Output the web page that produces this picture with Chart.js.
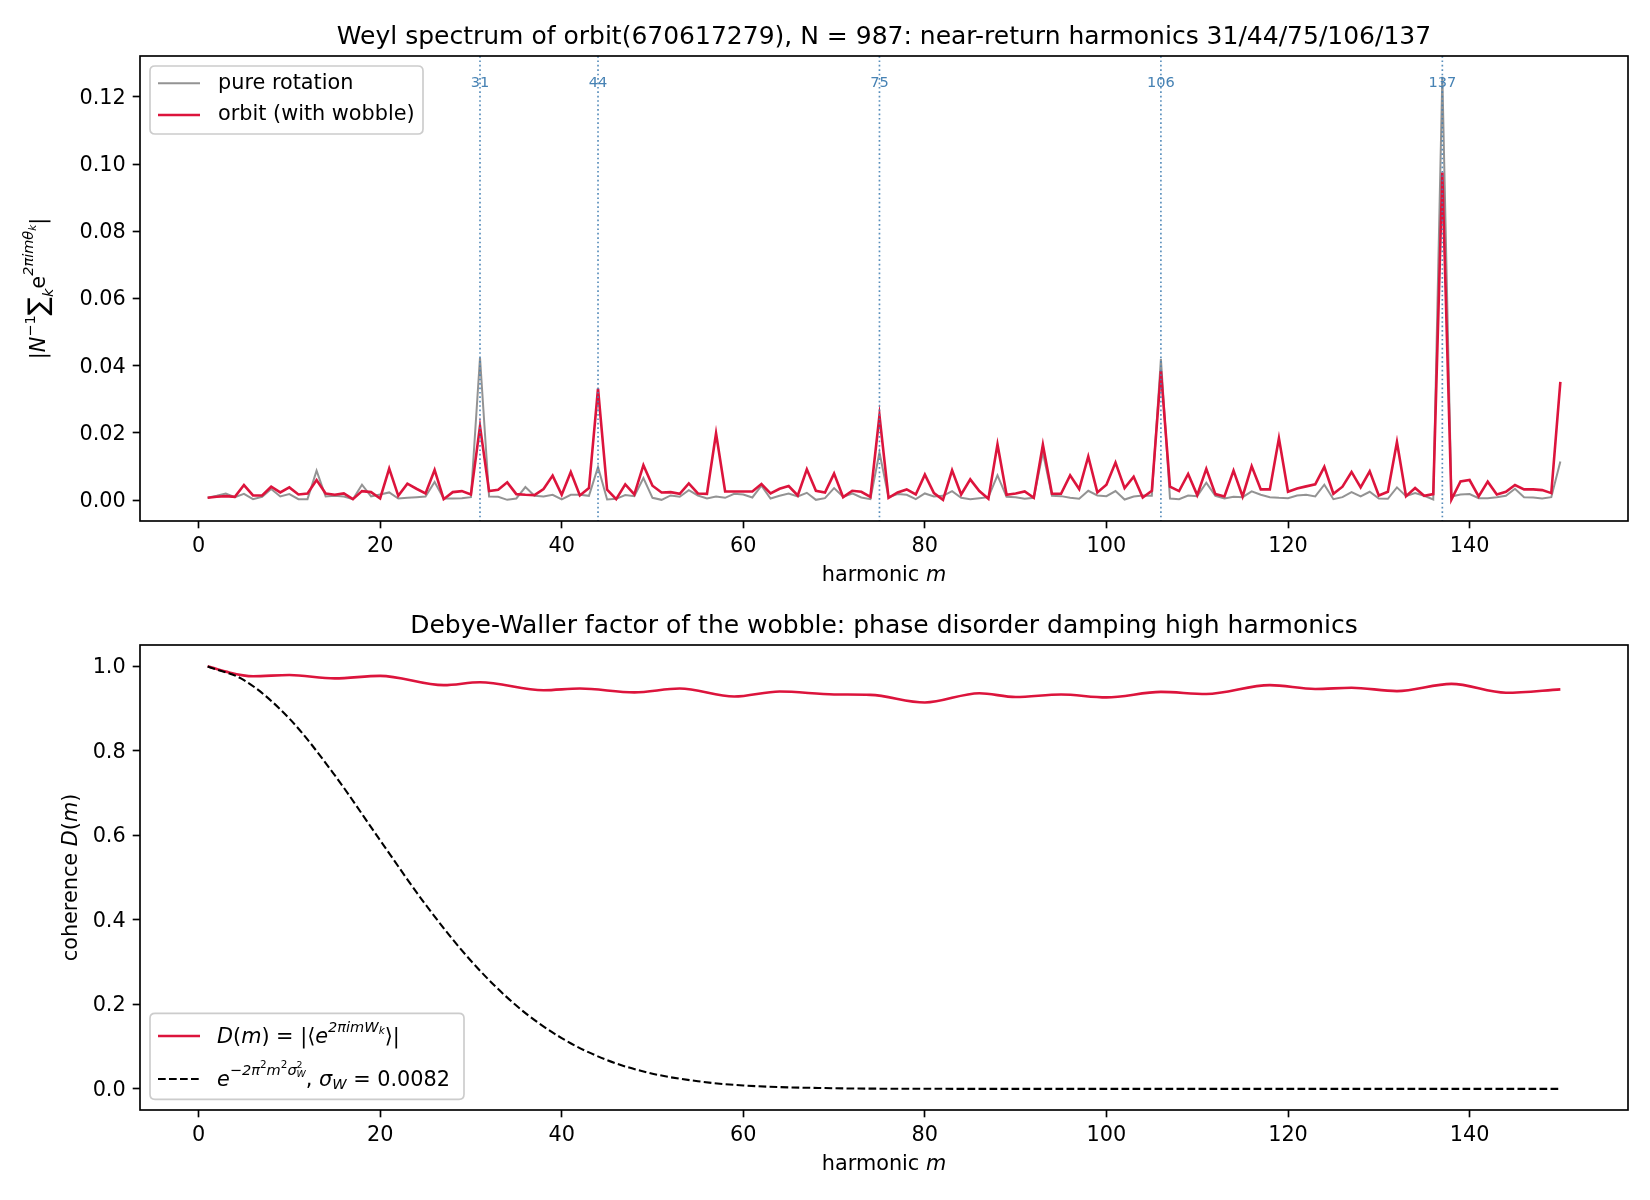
<!DOCTYPE html>
<html><head><meta charset="utf-8">
<script src="https://cdn.jsdelivr.net/npm/chart.js@4"></script>
<style>
html,body{margin:0;padding:0;background:#fff;}
#wrap{position:relative;width:1650px;height:1200px;background:#fff;}
canvas{position:absolute;left:0;}
</style></head><body>
<div id="wrap">
<canvas id="c1" width="1650" height="600" style="top:0;width:1650px;height:600px"></canvas>
<canvas id="c2" width="1650" height="600" style="top:600px;width:1650px;height:600px"></canvas>
</div>
<script>
// ---------------- data ----------------
const harmonics = Array.from({length:150},(_, i)=>i+1);
const pureRotation = [
0.0007,0.0013,0.0020,0.0009,0.0019,0.0003,0.0010,0.0033,0.0011,0.0018,
0.0003,0.0003,0.0088,0.0011,0.0013,0.0011,0.0003,0.0046,0.0011,0.0017,
0.0023,0.0005,0.0007,0.0009,0.0011,0.0054,0.0005,0.0005,0.0006,0.0009,
0.0424,0.0011,0.0010,0.0001,0.0005,0.0039,0.0013,0.0011,0.0016,0.0002,
0.0016,0.0016,0.0013,0.0099,0.0002,0.0004,0.0015,0.0012,0.0066,0.0007,
0.0001,0.0014,0.0010,0.0030,0.0014,0.0005,0.0011,0.0007,0.0019,0.0017,
0.0008,0.0043,0.0005,0.0013,0.0020,0.0011,0.0022,0.0001,0.0006,0.0036,
0.0010,0.0020,0.0008,0.0003,0.0142,0.0009,0.0018,0.0016,0.0003,0.0020,
0.0011,0.0013,0.0027,0.0007,0.0003,0.0006,0.0009,0.0074,0.0010,0.0009,
0.0004,0.0007,0.0142,0.0013,0.0012,0.0007,0.0004,0.0028,0.0014,0.0012,
0.0027,0.0002,0.0011,0.0014,0.0013,0.0420,0.0005,0.0003,0.0014,0.0012,
0.0052,0.0013,0.0005,0.0010,0.0009,0.0026,0.0016,0.0009,0.0007,0.0006,
0.0014,0.0016,0.0011,0.0046,0.0003,0.0009,0.0024,0.0011,0.0025,0.0005,
0.0004,0.0038,0.0012,0.0021,0.0013,0.0002,0.1260,0.0011,0.0017,0.0018,
0.0006,0.0006,0.0009,0.0013,0.0034,0.0009,0.0008,0.0005,0.0009,0.0115];
const orbitWobble = [
0.0007,0.0010,0.0012,0.0010,0.0045,0.0014,0.0014,0.0040,0.0023,0.0038,
0.0017,0.0020,0.0060,0.0020,0.0016,0.0020,0.0003,0.0027,0.0024,0.0005,
0.0094,0.0013,0.0049,0.0034,0.0020,0.0090,0.0003,0.0024,0.0027,0.0017,
0.0220,0.0027,0.0031,0.0053,0.0018,0.0016,0.0015,0.0033,0.0073,0.0016,
0.0084,0.0014,0.0036,0.0332,0.0031,0.0003,0.0047,0.0017,0.0104,0.0043,
0.0023,0.0024,0.0019,0.0050,0.0020,0.0019,0.0199,0.0026,0.0026,0.0026,
0.0026,0.0048,0.0020,0.0034,0.0042,0.0014,0.0092,0.0028,0.0023,0.0079,
0.0009,0.0028,0.0025,0.0010,0.0252,0.0007,0.0023,0.0032,0.0017,0.0076,
0.0021,0.0001,0.0089,0.0017,0.0062,0.0027,0.0004,0.0166,0.0016,0.0020,
0.0026,0.0007,0.0165,0.0019,0.0019,0.0074,0.0033,0.0130,0.0023,0.0046,
0.0112,0.0036,0.0070,0.0008,0.0028,0.0384,0.0040,0.0027,0.0078,0.0015,
0.0093,0.0018,0.0011,0.0088,0.0011,0.0101,0.0032,0.0032,0.0184,0.0025,
0.0035,0.0041,0.0047,0.0099,0.0019,0.0040,0.0084,0.0038,0.0086,0.0014,
0.0025,0.0173,0.0012,0.0036,0.0013,0.0018,0.0975,0.0002,0.0056,0.0060,
0.0011,0.0055,0.0017,0.0025,0.0045,0.0032,0.0032,0.0030,0.0021,0.0352];
const nearReturns = [31, 44, 75, 106, 137];

const coherenceM   = [1,3,6,10,15,20,27,31,38,42,48,53,59,64,70,74,80,86,90,95,100,106,111,118,123,127,132,138,144,150];
const coherenceVal = [1.000,0.987,0.976,0.979,0.971,0.977,0.955,0.962,0.943,0.947,0.938,0.947,0.928,0.940,0.933,0.932,0.914,0.936,0.927,0.933,0.926,0.939,0.934,0.955,0.946,0.949,0.941,0.958,0.937,0.945];
const gaussM   = [1,5,10,15,20,25,30,35,40,45,50,55,60,70,80,90,100,110,120,130,140,150];
const gaussVal = [0.999,0.967,0.876,0.742,0.588,0.436,0.303,0.197,0.120,0.068,0.036,0.018,0.008,0.0015,0.0002,0,0,0,0,0,0,0];

const xTicks  = [0,20,40,60,80,100,120,140];
const yTicksTop = [0,0.02,0.04,0.06,0.08,0.10,0.12];
const yTicksBot = [0,0.2,0.4,0.6,0.8,1.0];

// ---------------- helpers ----------------
const FAM = '"DejaVu Sans", sans-serif';
const FS = 20.8;
const CRIMSON = '#DC143C';
const GRAYLINE = 'rgba(128,128,128,0.85)';

function drawRich(ctx, segs, x, y, align, base){
  let w = 0;
  const items = segs.map(s=>{
    const [t, st, sc, rise, noadv] = s;
    const size = base*(sc||1);
    const font = (st==='i'?'italic ':'') + size.toFixed(2)+'px '+FAM;
    ctx.font = font;
    const mw = ctx.measureText(t).width;
    if(!noadv) w += mw;
    return {t, font, mw, dy: -(rise||0)*base, noadv};
  });
  let cx = align==='center' ? x - w/2 : x;
  for(const it of items){
    ctx.font = it.font;
    ctx.fillText(it.t, cx, y + it.dy);
    if(!it.noadv) cx += it.mw;
  }
}

function roundRect(ctx,x,y,w,h,r){
  ctx.beginPath();
  ctx.moveTo(x+r,y); ctx.lineTo(x+w-r,y); ctx.quadraticCurveTo(x+w,y,x+w,y+r);
  ctx.lineTo(x+w,y+h-r); ctx.quadraticCurveTo(x+w,y+h,x+w-r,y+h);
  ctx.lineTo(x+r,y+h); ctx.quadraticCurveTo(x,y+h,x,y+h-r);
  ctx.lineTo(x,y+r); ctx.quadraticCurveTo(x,y,x+r,y); ctx.closePath();
}

const framePlugin = {
  id:'frame',
  afterDraw(chart){
    const {ctx, chartArea:a} = chart;
    ctx.save();
    ctx.strokeStyle = '#000'; ctx.lineWidth = 1.67;
    ctx.strokeRect(a.left, a.top, a.right-a.left, a.bottom-a.top);
    ctx.restore();
  }
};

function axisTicks(vals){ return s => { s.ticks = vals.map(v=>({value:v})); }; }

function xScale(h){
  return {
    type:'linear', min:-6.45, max:157.45,
    afterBuildTicks: axisTicks(xTicks),
    afterFit: s=>{ s.height = h; },
    grid:{display:true, drawOnChartArea:false, drawTicks:true, tickLength:7.3, tickWidth:1.67, tickColor:'#000', color:'#000'},
    border:{display:false},
    ticks:{font:{family:FAM,size:FS}, color:'#000', padding:6, maxRotation:0, autoSkip:false, callback:v=>String(v)}
  };
}
function yScale(min,max,vals,dec){
  return {
    type:'linear', min, max,
    afterBuildTicks: axisTicks(vals),
    afterFit: s=>{ s.width = 140; },
    grid:{display:true, drawOnChartArea:false, drawTicks:true, tickLength:7.3, tickWidth:1.67, tickColor:'#000', color:'#000'},
    border:{display:false},
    ticks:{font:{family:FAM,size:FS}, color:'#000', padding:7, labelOffset:1.5, autoSkip:false, callback:v=>Number(v).toFixed(dec)}
  };
}

// ---------------- top chart ----------------
const topText = {
  id:'topText',
  afterDatasetsDraw(chart){
    const {ctx, chartArea:a, scales:{x}} = chart;
    ctx.save();
    ctx.strokeStyle = 'rgba(70,130,180,0.9)';
    ctx.lineWidth = 1.67;
    ctx.setLineDash([1.67, 2.75]);
    ctx.fillStyle = 'rgba(70,130,180,1)';
    ctx.font = '14.6px '+FAM;
    ctx.textAlign = 'center'; ctx.textBaseline = 'middle';
    for(const m of nearReturns){
      const px = x.getPixelForValue(m);
      ctx.beginPath(); ctx.moveTo(px, a.top); ctx.lineTo(px, a.bottom); ctx.stroke();
    }
    ctx.setLineDash([]);
    for(const m of nearReturns){
      const px = x.getPixelForValue(m);
      ctx.fillText(String(m), px, 83.5);
    }
    ctx.restore();
  },
  afterDraw(chart){
    const {ctx, chartArea:a} = chart;
    ctx.save();
    ctx.fillStyle = '#000';
    ctx.textAlign = 'center'; ctx.textBaseline = 'alphabetic';
    ctx.font = '25px '+FAM;
    ctx.fillText('Weyl spectrum of orbit(670617279), N = 987: near-return harmonics 31/44/75/106/137', (a.left+a.right)/2, 43.5);
    ctx.textAlign = 'left';
    drawRich(ctx, [['harmonic ','n'],['m','i']], (a.left+a.right)/2, 581, 'center', FS);
    // y label rotated
    ctx.save();
    ctx.translate(40, (a.top+a.bottom)/2);
    ctx.rotate(-Math.PI/2);
    ctx.textBaseline = 'middle';
    drawRich(ctx, [
      ['|','n'],['N','i'],['−1','n',0.7,0.42],['∑','n',1.3,0.02],['k','i',0.7,-0.42],
      ['e','n'],['2πimθ','i',0.7,0.5],['k','i',0.5,0.32],['|','n']
    ], 0, 0, 'center', FS);
    ctx.restore();
    // legend
    const lx=150, ly=66, lw=273, lh=68;
    ctx.fillStyle='rgba(255,255,255,0.8)';
    roundRect(ctx,lx,ly,lw,lh,5); ctx.fill();
    ctx.strokeStyle='#cccccc'; ctx.lineWidth=1.67; ctx.stroke();
    ctx.lineWidth=2.0; ctx.strokeStyle=GRAYLINE;
    ctx.beginPath(); ctx.moveTo(158,83.3); ctx.lineTo(200,83.3); ctx.stroke();
    ctx.lineWidth=2.6; ctx.strokeStyle=CRIMSON;
    ctx.beginPath(); ctx.moveTo(158,115); ctx.lineTo(200,115); ctx.stroke();
    ctx.fillStyle='#000'; ctx.font=FS+'px '+FAM; ctx.textBaseline='middle';
    ctx.fillText('pure rotation', 218, 83.3);
    ctx.fillText('orbit (with wobble)', 218, 115);
    ctx.restore();
  }
};

new Chart(document.getElementById('c1'), {
  type:'line',
  data:{ datasets:[
    {label:'pure rotation', data: harmonics.map((m,i)=>({x:m, y:pureRotation[i]})),
     borderColor:GRAYLINE, borderWidth:2.0, pointRadius:0, tension:0, order:1},
    {label:'orbit (with wobble)', data: harmonics.map((m,i)=>({x:m, y:orbitWobble[i]})),
     borderColor:CRIMSON, borderWidth:2.6, pointRadius:0, tension:0, order:0}
  ]},
  options:{
    responsive:false, animation:false, devicePixelRatio:1,
    layout:{padding:{left:0,right:22,top:56,bottom:0}},
    plugins:{legend:{display:false}, title:{display:false}, tooltip:{enabled:false}},
    scales:{ x: xScale(79), y: yScale(-0.0062, 0.1322, yTicksTop, 2) }
  },
  plugins:[framePlugin, topText]
});

// ---------------- bottom chart ----------------
const botText = {
  id:'botText',
  afterDraw(chart){
    const {ctx, chartArea:a} = chart;
    ctx.save();
    ctx.fillStyle = '#000';
    ctx.textAlign = 'center'; ctx.textBaseline = 'alphabetic';
    ctx.font = '25px '+FAM;
    ctx.fillText('Debye-Waller factor of the wobble: phase disorder damping high harmonics', (a.left+a.right)/2, 32.5);
    ctx.textAlign = 'left';
    drawRich(ctx, [['harmonic ','n'],['m','i']], (a.left+a.right)/2, 570, 'center', FS);
    ctx.save();
    ctx.translate(72, (a.top+a.bottom)/2);
    ctx.rotate(-Math.PI/2);
    ctx.textBaseline = 'middle';
    drawRich(ctx, [['coherence ','n'],['D','i'],['(','n'],['m','i'],[')','n']], 0, 0, 'center', FS);
    ctx.restore();
    // legend
    const lx=150, ly=413.3, lw=314, lh=86;
    ctx.fillStyle='rgba(255,255,255,0.8)';
    roundRect(ctx,lx,ly,lw,lh,5); ctx.fill();
    ctx.strokeStyle='#cccccc'; ctx.lineWidth=1.67; ctx.stroke();
    ctx.lineWidth=2.6; ctx.strokeStyle=CRIMSON;
    ctx.beginPath(); ctx.moveTo(158,436); ctx.lineTo(200,436); ctx.stroke();
    ctx.lineWidth=2.08; ctx.strokeStyle='#000'; ctx.setLineDash([7.7,3.3]);
    ctx.beginPath(); ctx.moveTo(158,479); ctx.lineTo(200,479); ctx.stroke();
    ctx.setLineDash([]);
    ctx.fillStyle='#000'; ctx.textBaseline='middle';
    drawRich(ctx, [['D','i'],['(','n'],['m','i'],[') = |⟨','n'],['e','i'],['2πimW','i',0.7,0.45],['k','i',0.5,0.3],['⟩|','n']], 217, 438, 'left', FS);
    drawRich(ctx, [['e','i'],['−2π','i',0.7,0.45],['2','n',0.5,0.75],['m','i',0.7,0.45],['2','n',0.5,0.75],['σ','i',0.7,0.45],['2','n',0.45,0.75,true],['W','i',0.45,0.3],[', ','n'],['σ','i'],['W','i',0.7,-0.2],[' = 0.0082','n']], 217, 481, 'left', FS);
    ctx.restore();
  }
};

new Chart(document.getElementById('c2'), {
  type:'line',
  data:{ datasets:[
    {label:'D(m)', data: coherenceM.map((m,i)=>({x:m, y:coherenceVal[i]})),
     borderColor:CRIMSON, borderWidth:2.6, pointRadius:0, cubicInterpolationMode:'monotone', order:1},
    {label:'gauss', data: gaussM.map((m,i)=>({x:m, y:gaussVal[i]})),
     borderColor:'#000', borderWidth:2.08, borderDash:[7.7,3.3], pointRadius:0, cubicInterpolationMode:'monotone', order:0}
  ]},
  options:{
    responsive:false, animation:false, devicePixelRatio:1,
    layout:{padding:{left:0,right:22,top:45,bottom:0}},
    plugins:{legend:{display:false}, title:{display:false}, tooltip:{enabled:false}},
    scales:{ x: xScale(90), y: yScale(-0.05, 1.05, yTicksBot, 1) }
  },
  plugins:[framePlugin, botText]
});
</script>
</body></html>
